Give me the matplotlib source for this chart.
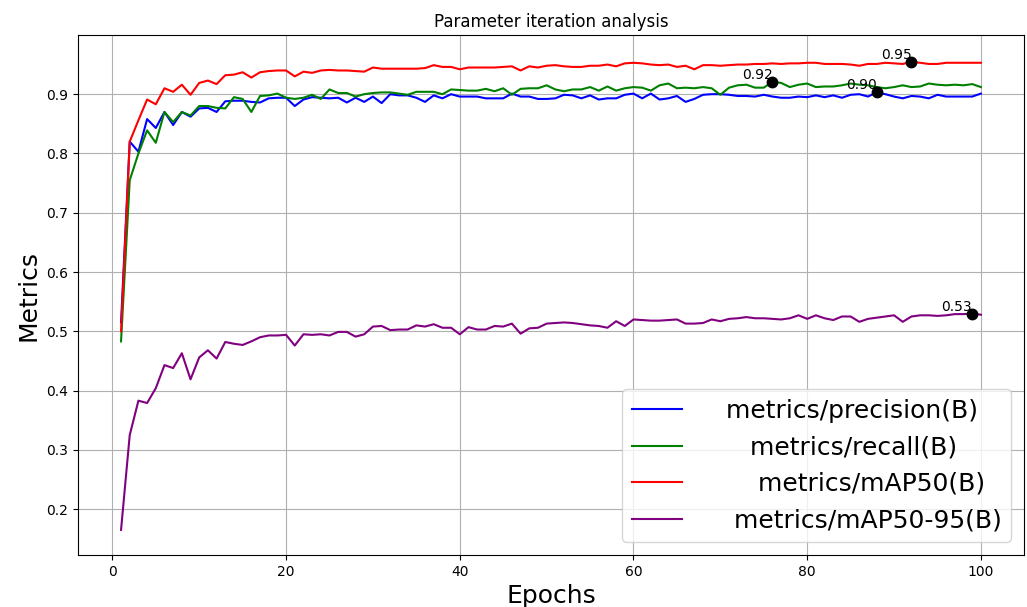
import numpy as np
import matplotlib
matplotlib.use("Agg")
import matplotlib.pyplot as plt

epochs = list(range(1, 101))

precision = [
    0.515, 0.820, 0.803, 0.858, 0.843, 0.870, 0.848, 0.870, 0.862, 0.876,
    0.877, 0.870, 0.888, 0.889, 0.889, 0.887, 0.886, 0.893, 0.894, 0.894,
    0.880, 0.891, 0.895, 0.894, 0.893, 0.894, 0.886, 0.894, 0.887, 0.896,
    0.885, 0.900, 0.898, 0.898, 0.894, 0.887, 0.898, 0.893, 0.900, 0.896,
    0.896, 0.896, 0.893, 0.893, 0.893, 0.901, 0.896, 0.896, 0.892, 0.892,
    0.893, 0.899, 0.898, 0.893, 0.898, 0.891, 0.893, 0.893, 0.899, 0.901,
    0.893, 0.901, 0.891, 0.893, 0.897, 0.887, 0.892, 0.899, 0.900, 0.900,
    0.899, 0.897, 0.897, 0.896, 0.899, 0.896, 0.894, 0.894, 0.896, 0.895,
    0.898, 0.895, 0.898, 0.894, 0.899, 0.900, 0.896, 0.903, 0.900, 0.896,
    0.893, 0.897, 0.896, 0.893, 0.899, 0.896, 0.896, 0.896, 0.896, 0.901,
]

recall = [
    0.483, 0.755, 0.800, 0.839, 0.818, 0.870, 0.853, 0.870, 0.864, 0.880,
    0.880, 0.877, 0.876, 0.895, 0.892, 0.870, 0.897, 0.898, 0.901, 0.894,
    0.892, 0.894, 0.899, 0.892, 0.908, 0.902, 0.902, 0.896, 0.900, 0.902,
    0.903, 0.903, 0.901, 0.899, 0.904, 0.904, 0.904, 0.900, 0.908, 0.907,
    0.906, 0.906, 0.909, 0.905, 0.910, 0.899, 0.909, 0.910, 0.910, 0.915,
    0.908, 0.905, 0.908, 0.908, 0.912, 0.906, 0.913, 0.906, 0.910, 0.912,
    0.911, 0.906, 0.915, 0.918, 0.910, 0.911, 0.910, 0.912, 0.910, 0.899,
    0.911, 0.915, 0.916, 0.911, 0.911, 0.921, 0.919, 0.912, 0.916, 0.918,
    0.912, 0.913, 0.913, 0.915, 0.918, 0.916, 0.915, 0.912, 0.910, 0.912,
    0.915, 0.912, 0.913, 0.918, 0.916, 0.915, 0.916, 0.915, 0.917, 0.912,
]

map50 = [
    0.500, 0.820, 0.856, 0.891, 0.883, 0.910, 0.904, 0.916, 0.899, 0.919,
    0.923, 0.917, 0.932, 0.933, 0.937, 0.928, 0.937, 0.939, 0.940, 0.940,
    0.930, 0.938, 0.936, 0.940, 0.941, 0.940, 0.940, 0.939, 0.938, 0.945,
    0.943, 0.943, 0.943, 0.943, 0.943, 0.944, 0.949, 0.946, 0.946, 0.942,
    0.945, 0.945, 0.945, 0.945, 0.946, 0.947, 0.940, 0.947, 0.945, 0.948,
    0.949, 0.947, 0.946, 0.946, 0.948, 0.948, 0.950, 0.947, 0.952, 0.953,
    0.952, 0.950, 0.949, 0.950, 0.946, 0.948, 0.942, 0.949, 0.949, 0.948,
    0.949, 0.950, 0.950, 0.951, 0.951, 0.952, 0.951, 0.952, 0.952, 0.953,
    0.953, 0.951, 0.951, 0.951, 0.950, 0.948, 0.951, 0.951, 0.953, 0.952,
    0.951, 0.9545, 0.953, 0.951, 0.951, 0.953, 0.953, 0.953, 0.953, 0.953,
]

map50_95 = [
    0.165, 0.325, 0.383, 0.379, 0.404, 0.443, 0.438, 0.463, 0.419, 0.456,
    0.468, 0.454, 0.482, 0.479, 0.477, 0.483, 0.490, 0.493, 0.493, 0.494,
    0.476, 0.495, 0.494, 0.495, 0.493, 0.499, 0.499, 0.491, 0.495, 0.508,
    0.509, 0.502, 0.503, 0.503, 0.510, 0.508, 0.512, 0.506, 0.506, 0.495,
    0.507, 0.503, 0.503, 0.509, 0.508, 0.513, 0.496, 0.505, 0.506, 0.513,
    0.514, 0.515, 0.514, 0.512, 0.510, 0.509, 0.506, 0.517, 0.509, 0.520,
    0.519, 0.518, 0.518, 0.519, 0.520, 0.513, 0.513, 0.514, 0.520, 0.517,
    0.521, 0.522, 0.524, 0.522, 0.522, 0.521, 0.520, 0.522, 0.527, 0.521,
    0.527, 0.522, 0.519, 0.525, 0.525, 0.516, 0.521, 0.523, 0.525, 0.527,
    0.516, 0.525, 0.527, 0.527, 0.526, 0.527, 0.529, 0.529, 0.530, 0.528,
]

series = [
    (precision, "blue", "   metrics/precision(B)"),
    (recall, "green", "      metrics/recall(B)"),
    (map50, "red", "       metrics/mAP50(B)"),
    (map50_95, "purple", "    metrics/mAP50-95(B)"),
]

fig = plt.figure(figsize=(10.27, 6.07), dpi=100)
ax = fig.add_axes([0.076, 0.086, 0.921, 0.856])

for values, color, label in series:
    ax.plot(epochs, values, color=color, label=label)

# mark the best value of each curve
for values, color, label in series:
    i = int(np.argmax(values))
    ax.plot(epochs[i], values[i], "o", color="black", markersize=7.5)
    ax.annotate(f"{values[i]:.2f}", (epochs[i], values[i]),
                textcoords="offset points", xytext=(0, 0),
                ha="right", va="bottom", fontsize=10)

ax.set_title("Parameter iteration analysis")
ax.set_xlabel("Epochs", fontsize=18)
ax.set_ylabel("Metrics", fontsize=18)
ax.set_ylim(0.123, 0.9995)
ax.grid(True)
ax.legend(loc="lower right", fontsize=18)

fig.savefig("out.png", dpi=100)
